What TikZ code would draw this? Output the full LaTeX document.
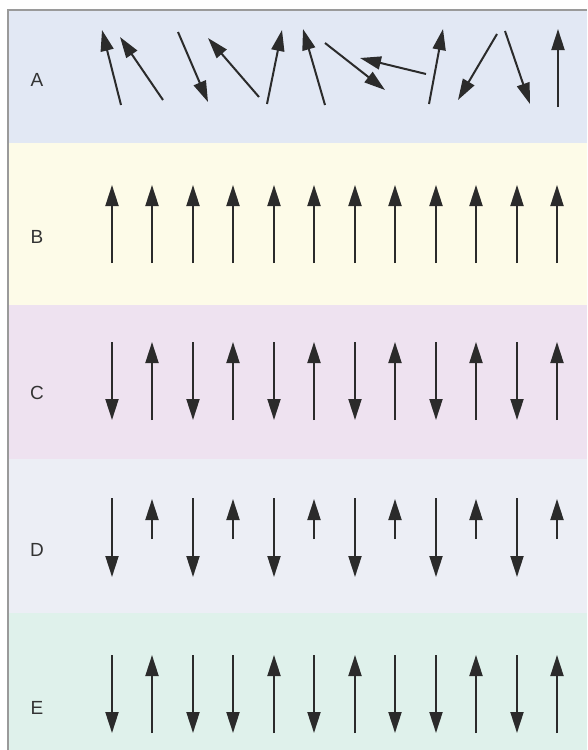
\documentclass[tikz,border=0pt]{standalone}
\usepackage{fontspec}
\setmainfont{Liberation Sans}
\usetikzlibrary{arrows.meta}
\definecolor{bandA}{HTML}{E2E8F4}
\definecolor{bandB}{HTML}{FDFBE8}
\definecolor{bandC}{HTML}{EEE2F0}
\definecolor{bandD}{HTML}{ECEEF5}
\definecolor{bandE}{HTML}{DFF1EB}
\definecolor{framec}{HTML}{9A9A9A}
\definecolor{arrowc}{HTML}{2B2B2B}
\definecolor{labelc}{HTML}{333333}
\begin{document}
\begin{tikzpicture}[x=1pt,y=-1pt,
  spin/.style={draw=arrowc, line width=2pt, -{Triangle[length=21pt,width=13pt]}},
  lbl/.style={font=\fontsize{19}{19}\selectfont, text=labelc, inner sep=0pt}]
\useasboundingbox (0,0) rectangle (587,750);
\fill[white] (0,0) rectangle (587,750);
\fill[bandA] (8,10) rectangle (587,143);
\fill[bandB] (8,143) rectangle (587,305);
\fill[bandC] (8,305) rectangle (587,459);
\fill[bandD] (8,459) rectangle (587,613);
\fill[bandE] (8,613) rectangle (587,750);
\draw[framec, line width=2pt] (8,750) -- (8,10) -- (587,10);
% labels
\node[lbl] (la) at (37,80) {A};
\node[lbl] (lb) at (37,237) {B};
\node[lbl] (lc) at (37,393) {C};
\node[lbl] (ld) at (37,550) {D};
\node[lbl] (le) at (37,708) {E};
% row A: random spins
\draw[spin] (121,105) -- (102,30);
\draw[spin] (163,100) -- (120,37);
\draw[spin] (178,32) -- (208,102);
\draw[spin] (259,97) -- (208,38);
\draw[spin] (267,104) -- (282,30);
\draw[spin] (325,105) -- (303,29);
\draw[spin] (325,43) -- (385,90);
\draw[spin] (426,74) -- (360,58);
\draw[spin] (429,104) -- (443,29);
\draw[spin] (497,34) -- (458,100);
\draw[spin] (505,31) -- (530,104);
\draw[spin] (558,107) -- (558,29);
% row B: all up
\foreach \x in {112,152,193,233,274,314,355,395,436,476,517,557}
  \draw[spin] (\x,263) -- (\x,185);
% row C: alternating
\foreach \x in {112,193,274,355,436,517}
  \draw[spin] (\x,342) -- (\x,420);
\foreach \x in {152,233,314,395,476,557}
  \draw[spin] (\x,420) -- (\x,342);
% row D: long down, short up
\foreach \x in {112,193,274,355,436,517}
  \draw[spin] (\x,498) -- (\x,577);
\foreach \x in {152,233,314,395,476,557}
  \draw[spin] (\x,539) -- (\x,499);
% row E: down up down down up down up down down up down up
\foreach \x in {112,193,233,314,395,436,517}
  \draw[spin] (\x,655) -- (\x,733);
\foreach \x in {152,274,355,476,557}
  \draw[spin] (\x,733) -- (\x,655);
\end{tikzpicture}
\end{document}
